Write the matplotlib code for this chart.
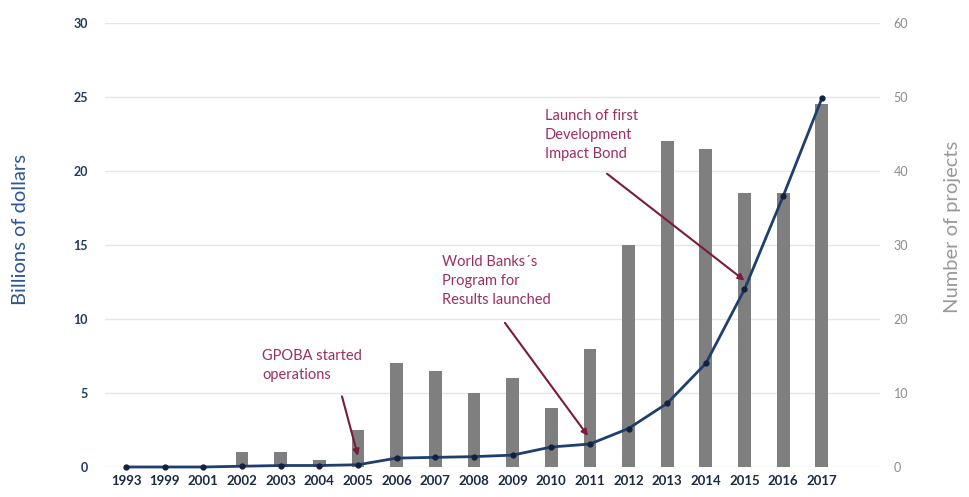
import matplotlib

matplotlib.use("Agg")

import matplotlib.pyplot as plt

plt.rcParams["font.family"] = ["Lato", "DejaVu Sans"]

# data
years = ["1993", "1999", "2001", "2002", "2003", "2004", "2005", "2006", "2007", "2008",
         "2009", "2010", "2011", "2012", "2013", "2014", "2015", "2016", "2017"]
projects = [0, 0, 0, 2, 2, 1, 5, 14, 13, 10, 12, 8, 16, 30, 44, 43, 37, 37, 49]
billions = [0, 0, 0, 0.05, 0.1, 0.1, 0.15, 0.6, 0.65, 0.7, 0.8, 1.35, 1.55, 2.6,
            4.3, 7.0, 12.0, 18.3, 24.9]

NAVY = "#1f3864"
LINE = "#1e3f6e"
GREY = "#7f7f7f"
TEXT_MAROON = "#9c2e62"
ARROW_MAROON = "#7b1a3e"

fig = plt.figure(figsize=(9.7, 4.97), dpi=100)
ax = fig.add_axes([0.108, 0.0604, 0.799, 0.8933])
ax2 = ax.twinx()

x = list(range(len(years)))

# bars on right axis (number of projects), line on left axis (billions)
ax2.bar(x, projects, width=0.33, color=GREY, zorder=2)
ax.set_zorder(ax2.get_zorder() + 1)
ax.patch.set_visible(False)
ax.plot(x, billions, color=LINE, lw=2, marker="o", ms=3.5, mfc="#14213d", mec="#14213d",
        zorder=3, clip_on=False)

ax.set_xlim(-0.55, 19.5)
ax.set_ylim(0, 30)
ax2.set_ylim(0, 60)
ax.set_yticks(range(0, 31, 5))
ax2.set_yticks(range(0, 61, 10))
ax.set_xticks(x)
ax.set_xticklabels(years)

for a in (ax, ax2):
    for s in a.spines.values():
        s.set_visible(False)

ax2.grid(False)
for yv in range(0, 61, 10):
    ax2.axhline(yv, color="#e6e6e6", lw=1, zorder=0)

ax.tick_params(axis="y", length=0, pad=12, labelsize=9, labelcolor=NAVY)
ax.tick_params(axis="x", length=0, pad=6, labelsize=9.5, labelcolor="#1a2a44")
for lab in ax.get_xticklabels():
    lab.set_fontweight("bold")
for lab in ax.get_yticklabels():
    lab.set_fontweight("bold")
ax2.tick_params(axis="y", length=0, pad=10, labelsize=9, labelcolor="#8c8c8c")

ax.set_ylabel("Billions of dollars", color="#2e5597", fontsize=14.5)
ax.yaxis.set_label_coords(-0.098, 0.535)
ax2.set_ylabel("Number of projects", color="#999999", fontsize=14.5)
ax2.yaxis.set_label_coords(1.083, 0.54)

# annotations
arrow = dict(arrowstyle="-|>", color=ARROW_MAROON, lw=1.5, shrinkA=0, shrinkB=0,
             mutation_scale=9)
ax.annotate("GPOBA started\noperations", xy=(6.0, 0.75), xytext=(3.52, 8.0),
            color=TEXT_MAROON, fontsize=10.5, ha="left", va="top", linespacing=1.45,
            arrowprops=dict(arrow, relpos=(0.8, -0.45)))
ax.annotate("World Banks´s\nProgram for\nResults launched", xy=(11.95, 2.1), xytext=(8.17, 14.3),
            color=TEXT_MAROON, fontsize=10.5, ha="left", va="top", linespacing=1.45,
            arrowprops=dict(arrow, relpos=(0.58, -0.3)))
ax.annotate("Launch of first\nDevelopment\nImpact Bond", xy=(16.0, 12.6), xytext=(10.83, 24.2),
            color=TEXT_MAROON, fontsize=10.5, ha="left", va="top", linespacing=1.45,
            arrowprops=dict(arrow, relpos=(0.67, -0.25)))

fig.savefig("out.png", dpi=100)
